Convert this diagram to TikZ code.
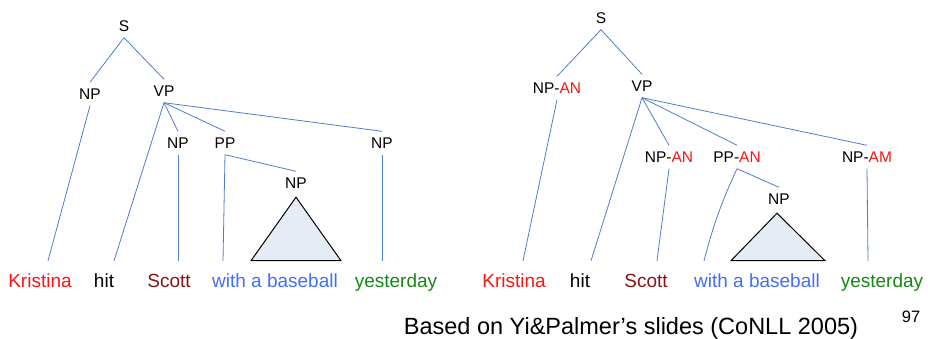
\documentclass[tikz,border=0pt]{standalone}
\usepackage{fontspec}
\setmainfont{Liberation Sans}
\usepackage{xcolor}
\definecolor{TreeBlue}{RGB}{79,124,204}
\definecolor{TriFill}{RGB}{230,236,246}
\definecolor{ArgRed}{RGB}{250,20,20}
\definecolor{ScottRed}{RGB}{135,20,20}
\definecolor{WordBlue}{RGB}{66,110,246}
\definecolor{WordGreen}{RGB}{20,135,20}
\usepackage{tikz}
\usetikzlibrary{calc}

\begin{document}
\begin{tikzpicture}[
  x=1pt,y=-1pt,
  cat/.style={inner xsep=0pt,inner ysep=6pt,text height=11pt,text depth=0pt,
    font=\fontsize{15.5}{18}\selectfont},
  word/.style={inner xsep=0pt,inner ysep=12pt,text height=14pt,text depth=0pt,
    font=\fontsize{19}{22}\selectfont},
  edge/.style={TreeBlue,line width=0.8pt},
  tri/.style={draw=black,fill=TriFill,line width=1pt,line join=miter}
]
\useasboundingbox (0,0) rectangle (928,339);

% left tree
\node[cat] (s1) at (124,26) {S};
\node[cat] (np1) at (90,94) {NP};
\node[cat] (vp1) at (164,91) {VP};
\node[cat] (obj1) at (178,143) {NP};
\node[cat] (pp1) at (225,143) {PP};
\node[cat] (tmp1) at (382,143) {NP};
\node[cat] (pnp1) at (296,183) {NP};
\node[word,ArgRed] (kr1) at (40,280) {Kristina};
\node[word] (hit1) at (104,280) {hit};
\node[word,ScottRed] (sc1) at (169,280) {Scott};
\node[word,WordBlue] (wb1) at (275,280) {with a baseball};
\node[word,WordGreen] (ys1) at (396,280) {yesterday};
\draw[edge] (s1.south) -- (np1.north);
\draw[edge] (s1.south) -- (vp1.north);
\draw[edge] (np1.south) -- ([xshift=8pt]kr1.north);
\draw[edge] (vp1.south) -- ([xshift=10pt]hit1.north);
\draw[edge] (vp1.south) -- (obj1.north);
\draw[edge] (vp1.south) -- (pp1.north);
\draw[edge] (vp1.south) -- (tmp1.north);
\draw[edge] (obj1.south) -- ([xshift=9pt]sc1.north);
\draw[edge] (pp1.south) -- (pnp1.north);
\draw[edge] (pp1.south) -- ([xshift=-52pt]wb1.north);
\draw[edge] (tmp1.south) -- ([xshift=-14pt]ys1.north);
\draw[tri] ($(pnp1.south)+(0,2.5)$) -- ++(-45,63.5) -- ++(90,0) -- cycle;

% right tree
\node[cat] (s2) at (601,18) {S};
\node[cat] (np2) at (557,88) {NP-\textcolor{ArgRed}{AN}};
\node[cat] (vp2) at (642,86) {VP};
\node[cat] (obj2) at (669,157) {NP-\textcolor{ArgRed}{AN}};
\node[cat] (pp2) at (737,157) {PP-\textcolor{ArgRed}{AN}};
\node[cat] (tmp2) at (867,157) {NP-\textcolor{ArgRed}{AM}};
\node[cat] (pnp2) at (779,199) {NP};
\node[word,ArgRed] (kr2) at (514,280) {Kristina};
\node[word] (hit2) at (580,280) {hit};
\node[word,ScottRed] (sc2) at (646,280) {Scott};
\node[word,WordBlue] (wb2) at (757,280) {with a baseball};
\node[word,WordGreen] (ys2) at (882,280) {yesterday};
\draw[edge] (s2.south) -- (np2.north);
\draw[edge] (s2.south) -- (vp2.north);
\draw[edge] (np2.south) -- ([xshift=9pt]kr2.north);
\draw[edge] (vp2.south) -- ([xshift=11pt]hit2.north);
\draw[edge] (vp2.south) -- (obj2.north);
\draw[edge] (vp2.south) -- (pp2.north);
\draw[edge] (vp2.south) -- (tmp2.north);
\draw[edge] (obj2.south) -- ([xshift=11pt]sc2.north);
\draw[edge] (pp2.south) -- (pnp2.north);
\draw[edge] (pp2.south) to[bend right=5] ([xshift=-53pt]wb2.north);
\draw[edge] (tmp2.south) -- ([xshift=-14pt]ys2.north);
\draw[tri] ($(pnp2.south)+(-2,2.5)$) -- ++(-46,47.5) -- ++(94,0) -- cycle;

% source note
\node[inner sep=0pt,font=\fontsize{23.5}{28}\selectfont,text height=17pt,text depth=0pt] (note) at (631,325.5) {Based on Yi\&Palmer’s slides (CoNLL 2005)};
\node[inner sep=0pt,font=\fontsize{16.5}{20}\selectfont,text height=12pt,text depth=0pt] (page) at (911,316) {97};
\end{tikzpicture}
\end{document}
